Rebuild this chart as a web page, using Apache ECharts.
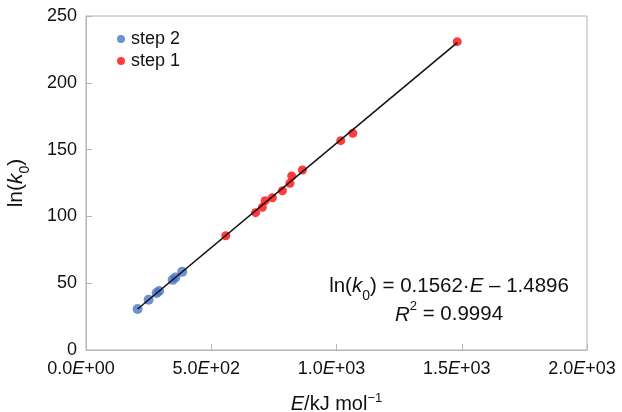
<!DOCTYPE html>
<html>
<head>
<meta charset="utf-8">
<script src="https://cdn.jsdelivr.net/npm/echarts@6/dist/echarts.min.js"></script>
<style>
  html, body { margin: 0; padding: 0; background: #fff; }
  #chart { width: 622px; height: 412px; }
</style>
</head>
<body>
<div id="chart"></div>
<script>
// Activation energy E (kJ/mol) and ln(k0) for each stage
const step2E  = [206, 250, 282, 292, 346, 357, 384];
const step2Ln = [30.7, 37.6, 42.6, 44.1, 52.5, 54.3, 58.5];
const step1E  = [558, 677, 704, 715, 744, 784, 814, 821, 864, 1017, 1065, 1482];
const step1Ln = [85.5, 102.8, 106.8, 111.8, 114.0, 119.2, 124.8, 130.2, 134.7, 156.7, 162.2, 230.8];

// Linear fit ln(k0) = a·E + b
const fitSlope = 0.1562;
const fitIntercept = -1.4896;
const fitR2 = 0.9994;

const xTicks = [0, 500, 1000, 1500, 2000];
const yTicks = [0, 50, 100, 150, 200, 250];

const FONT = '"Liberation Sans", Arial, Helvetica, sans-serif';
const AXIS_GREY = '#b4b4b4';
const INK = '#111';

const allE = step2E.concat(step1E);
const eMin = Math.min.apply(null, allE);
const eMax = Math.max.apply(null, allE);
const fitLine = [eMin, eMax].map(e => [e, fitSlope * e + fitIntercept]);

function sciLabel(v) {
  if (v === 0) return '{n|0.0}{i|E}{n|+00}';
  const exp = Math.floor(Math.log10(Math.abs(v)));
  const mant = (v / Math.pow(10, exp)).toFixed(1);
  return '{n|' + mant + '}{i|E}{n|+' + String(exp).padStart(2, '0') + '}';
}

const chart = echarts.init(document.getElementById('chart'), null, { renderer: 'canvas' });

chart.setOption({
  animation: false,
  backgroundColor: '#fff',
  textStyle: { fontFamily: FONT },
  grid: {
    left: 86, right: 35, top: 16, bottom: 62,
    outerBoundsMode: 'none', containLabel: false,
    show: true, borderColor: AXIS_GREY, borderWidth: 1
  },
  legend: {
    left: 112, top: 25, orient: 'vertical',
    itemWidth: 8, itemHeight: 8, itemGap: 4,
    data: ['step 2', 'step 1'],
    textStyle: { fontFamily: FONT, fontSize: 18, color: INK, padding: [0, 0, 0, 1] }
  },
  xAxis: {
    type: 'value', min: xTicks[0], max: xTicks[xTicks.length - 1], interval: 500,
    splitLine: { show: false },
    axisLine: { lineStyle: { color: AXIS_GREY, width: 1 } },
    axisTick: { inside: true, length: 6, lineStyle: { color: AXIS_GREY } },
    axisLabel: {
      margin: 10,
      padding: [0, 10, 0, 0],
      formatter: sciLabel,
      rich: {
        n: { fontFamily: FONT, fontSize: 18, color: INK },
        i: { fontFamily: FONT, fontSize: 18, color: INK, fontStyle: 'italic' }
      }
    },
    name: '{i|E}{n|/kJ mol}{s|\u22121}',
    nameLocation: 'middle', nameGap: 42,
    nameTextStyle: {
      rich: {
        i: { fontFamily: FONT, fontSize: 20, color: INK, fontStyle: 'italic', lineHeight: 22, verticalAlign: 'bottom' },
        n: { fontFamily: FONT, fontSize: 20, color: INK, lineHeight: 22, verticalAlign: 'bottom' },
        s: { fontFamily: FONT, fontSize: 13, color: INK, lineHeight: 22, verticalAlign: 'top' }
      }
    }
  },
  yAxis: {
    type: 'value', min: yTicks[0], max: yTicks[yTicks.length - 1], interval: 50,
    splitLine: { show: false },
    axisLine: { show: true, lineStyle: { color: AXIS_GREY, width: 1 } },
    axisTick: { show: true, inside: true, length: 6, lineStyle: { color: AXIS_GREY } },
    axisLabel: { margin: 9, fontFamily: FONT, fontSize: 18, color: INK },
    name: '{n|ln(}{i|k}{b|0}{n|)}',
    nameLocation: 'middle', nameGap: 54, nameRotate: 90,
    nameTextStyle: {
      rich: {
        n: { fontFamily: FONT, fontSize: 21, color: INK, lineHeight: 26, verticalAlign: 'top' },
        i: { fontFamily: FONT, fontSize: 21, color: INK, fontStyle: 'italic', lineHeight: 26, verticalAlign: 'top' },
        b: { fontFamily: FONT, fontSize: 14, color: INK, lineHeight: 26, verticalAlign: 'bottom' }
      }
    }
  },
  series: [
    {
      name: 'fit', type: 'line', data: fitLine, symbol: 'none', silent: true,
      lineStyle: { color: INK, width: 1.6 }, z: 3
    },
    {
      name: 'step 2', type: 'scatter', symbol: 'circle', symbolSize: 10,
      itemStyle: { color: '#4a76c6' }, z: 2,
      data: step2E.map((e, i) => [e, step2Ln[i]])
    },
    {
      name: 'step 1', type: 'scatter', symbol: 'circle', symbolSize: 9,
      itemStyle: { color: '#ff0a0a' }, z: 2,
      data: step1E.map((e, i) => [e, step1Ln[i]])
    }
  ],
  graphic: [
    {
      type: 'text', x: 449, y: 276,
      style: {
        x: 0, y: 0, align: 'center',
        text: '{n|ln(}{i|k}{b|0}{n|) = ' + fitSlope.toFixed(4) + '\u00b7}{i|E}{n| \u2013 ' + Math.abs(fitIntercept).toFixed(4) + '}',
        rich: {
          n: { fontFamily: FONT, fontSize: 20.5, fill: INK, lineHeight: 27, verticalAlign: 'top' },
          i: { fontFamily: FONT, fontSize: 20.5, fill: INK, fontStyle: 'italic', lineHeight: 27, verticalAlign: 'top' },
          b: { fontFamily: FONT, fontSize: 14, fill: INK, lineHeight: 27, verticalAlign: 'bottom' }
        }
      }
    },
    {
      type: 'text', x: 449, y: 300,
      style: {
        x: 0, y: 0, align: 'center',
        text: '{i|R}{s|2}{n| = ' + fitR2.toFixed(4) + '}',
        rich: {
          n: { fontFamily: FONT, fontSize: 20.5, fill: INK, lineHeight: 25, verticalAlign: 'bottom' },
          i: { fontFamily: FONT, fontSize: 20.5, fill: INK, fontStyle: 'italic', lineHeight: 25, verticalAlign: 'bottom' },
          s: { fontFamily: FONT, fontSize: 13, fill: INK, lineHeight: 25, verticalAlign: 'top' }
        }
      }
    }
  ]
});
</script>
</body>
</html>
